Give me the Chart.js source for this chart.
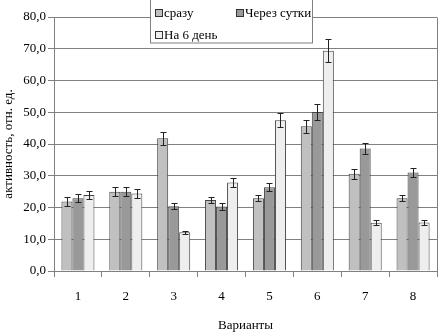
<!DOCTYPE html>
<html>
<head>
<meta charset="utf-8">
<script src="https://cdn.jsdelivr.net/npm/chart.js@4.4.1/dist/chart.umd.min.js"></script>
<style>
html,body{margin:0;padding:0;background:#fff;}
#wrap{width:439px;height:334px;position:relative;}
</style>
</head>
<body>
<div id="wrap"><canvas id="c" width="439" height="334"></canvas></div>
<script>
const categories = ['1','2','3','4','5','6','7','8'];
const seriesNames = ['сразу','Через сутки','На 6 день'];
const valuesNow   = [21.9, 25.0, 41.8, 22.4, 22.9, 45.6, 30.6, 22.9];
const valuesDay1  = [22.9, 25.0, 20.4, 20.3, 26.4, 50.1, 38.6, 31.0];
const valuesDay6  = [23.9, 24.4, 12.2, 27.9, 47.5, 69.4, 15.2, 15.3];
const errNow  = [1.3, 1.4, 2.1, 1.0, 1.0, 2.1, 1.5, 1.0];
const errDay1 = [1.2, 1.4, 1.0, 1.0, 1.3, 2.6, 1.6, 1.4];
const errDay6 = [1.3, 1.3, 0.5, 1.3, 2.3, 3.6, 0.8, 0.8];
const yTicks = [0,10,20,30,40,50,60,70,80];
const yTitle = 'активность, отн. ед.';
const xTitle = 'Варианты';

const FONT = 'Liberation Serif';
Chart.defaults.font.family = FONT;
Chart.defaults.font.size = 13;
Chart.defaults.color = '#000';

const errorBars = {
  id:'errorBars',
  afterDatasetsDraw(chart){
    const ctx = chart.ctx, ys = chart.scales.y;
    ctx.save();
    ctx.strokeStyle = '#222';
    ctx.lineWidth = 1;
    chart.data.datasets.forEach((ds,i)=>{
      const meta = chart.getDatasetMeta(i);
      meta.data.forEach((el,j)=>{
        const v = ds.data[j], e = ds.errors[j];
        const x = Math.round(el.x)+0.5;
        const y1 = Math.round(ys.getPixelForValue(v+e))+0.5;
        const y2 = Math.round(ys.getPixelForValue(v-e))+0.5;
        ctx.beginPath();
        ctx.moveTo(x,y1); ctx.lineTo(x,y2);
        ctx.moveTo(x-3,y1); ctx.lineTo(x+3,y1);
        ctx.moveTo(x-3,y2); ctx.lineTo(x+3,y2);
        ctx.stroke();
      });
    });
    ctx.restore();
  }
};

const frameAndLegend = {
  id:'frameAndLegend',
  afterDraw(chart){
    const ctx = chart.ctx, a = chart.chartArea;
    ctx.save();
    ctx.strokeStyle = '#808080';
    ctx.lineWidth = 1;
    ctx.beginPath();
    ctx.moveTo(Math.round(a.right)+0.5, Math.round(a.top)+0.5);
    ctx.lineTo(Math.round(a.right)+0.5, Math.round(a.bottom)+0.5);
    ctx.stroke();
    // legend box
    const bx = 150.5, by = -0.5, bw = 162, bh = 43.5;
    ctx.fillStyle = '#fff';
    ctx.fillRect(bx, by, bw, bh);
    ctx.strokeStyle = '#808080';
    ctx.strokeRect(bx, by, bw, bh);
    const items = [
      {x:155, y:13},
      {x:236, y:13},
      {x:155, y:35}
    ];
    ctx.font = '13px "'+FONT+'"';
    ctx.textBaseline = 'middle';
    ctx.textAlign = 'left';
    chart.data.datasets.forEach((ds,i)=>{
      const it = items[i];
      ctx.fillStyle = ds.backgroundColor;
      ctx.fillRect(it.x+0.5, it.y-3.5, 7, 7);
      ctx.strokeStyle = '#333';
      ctx.strokeRect(it.x+0.5, it.y-3.5, 7, 7);
      ctx.fillStyle = '#000';
      ctx.fillText(ds.label, it.x+9, it.y+1);
    });
    ctx.restore();
  }
};

const colors = ['#c0c0c0','#999999','#eeeeee'];
const vals = [valuesNow, valuesDay1, valuesDay6];
const errs = [errNow, errDay1, errDay6];

new Chart(document.getElementById('c'), {
  type:'bar',
  data:{
    labels:categories,
    datasets: seriesNames.map((n,i)=>({
      label:n,
      data:vals[i],
      errors:errs[i],
      backgroundColor:colors[i],
      borderColor:'#444',
      borderWidth:1,
      categoryPercentage:0.69,
      barPercentage:1.0
    }))
  },
  options:{
    responsive:false,
    animation:false,
    devicePixelRatio:1,
    layout:{padding:{top:17,right:2,left:0,bottom:0}},
    plugins:{legend:{display:false},tooltip:{enabled:false}},
    scales:{
      x:{
        grid:{display:true,drawOnChartArea:false,drawTicks:true,tickLength:6,color:'#808080',offset:true},
        border:{display:true,color:'#808080'},
        ticks:{padding:12,color:'#000',font:{size:13}},
        title:{display:true,text:xTitle,padding:{top:0,bottom:1},font:{size:13}},
        afterFit(s){ s.height = 63; }
      },
      y:{
        min:0,max:80,
        afterBuildTicks(s){ s.ticks = yTicks.map(v=>({value:v})); },
        grid:{color:'#808080',tickLength:6},
        border:{display:true,color:'#808080'},
        ticks:{padding:2,color:'#000',font:{size:13},
          callback:(v)=>v.toFixed(1).replace('.',',')},
        title:{display:true,text:yTitle,padding:{top:1,bottom:0},font:{size:13}},
        afterFit(s){ s.width = 54; }
      }
    }
  },
  plugins:[errorBars, frameAndLegend]
});
</script>
</body>
</html>
